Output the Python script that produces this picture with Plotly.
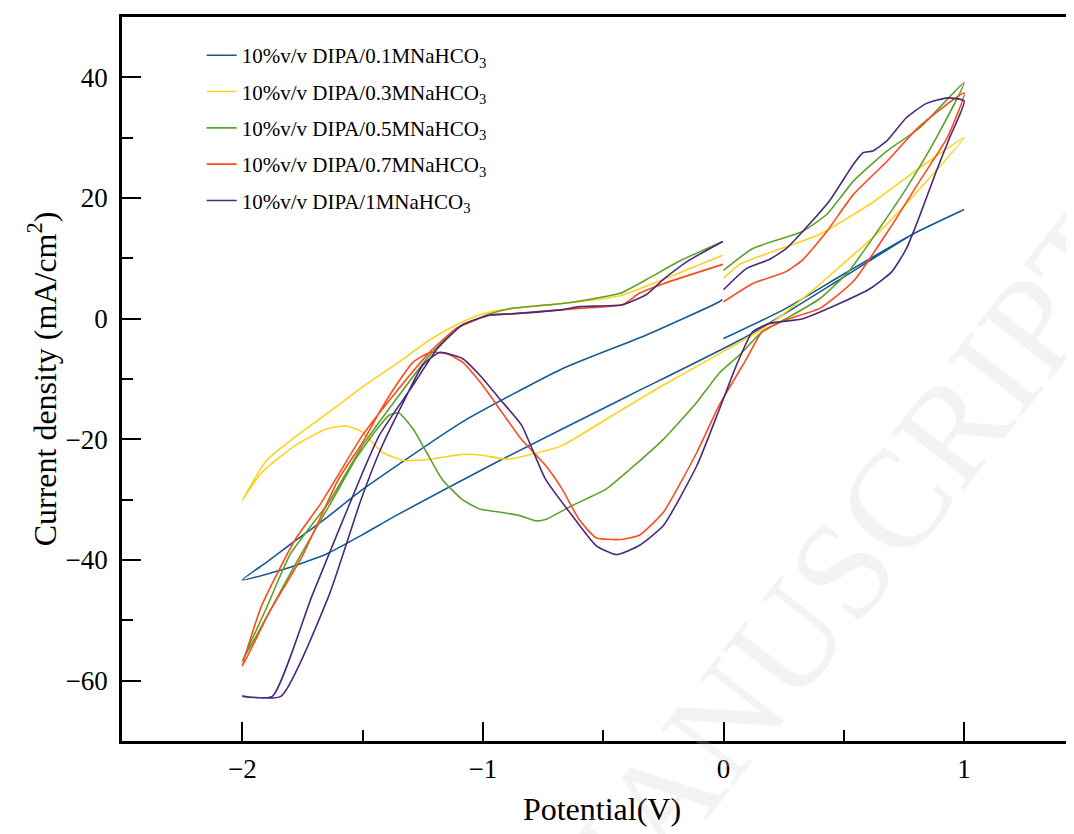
import plotly.graph_objects as go

# cyclic voltammograms, 10% v/v DIPA in NaHCO3 solutions
# each scan: 0 V -> +1 V -> -2 V -> back to 0 V
names = ["10%v/v DIPA/0.1MNaHCO<sub>3</sub>",
         "10%v/v DIPA/0.3MNaHCO<sub>3</sub>",
         "10%v/v DIPA/0.5MNaHCO<sub>3</sub>",
         "10%v/v DIPA/0.7MNaHCO<sub>3</sub>",
         "10%v/v DIPA/1MNaHCO<sub>3</sub>"]
colors = ["#155a96", "#ffd21f", "#5ea22a", "#ff4b1c", "#4b2a7a"]

E_01 = [0.0, 0.25, 0.5, 0.786, 1.0,
        0.786, 0.5, 0.108, -0.39, -0.944, -1.36, -1.5, -1.65, -1.8, -2.0,
        -1.9, -1.79, -1.65, -1.5, -1.085, -0.67, -0.32, -0.017, -0.005]
j_01 = [-3.3, 1.5, 7.4, 14.0, 18.1,
        14.0, 6.9, -2.7, -12.7, -23.8, -32.6, -35.8, -39.0, -41.2, -43.3,
        -40.4, -37.1, -33.0, -28.3, -17.1, -8.3, -2.7, 2.8, 3.2]

E_03 = [0.0, 0.067, 0.4, 0.61, 0.815, 1.0,
        0.815, 0.65, 0.48, 0.4, 0.19, -0.017, -0.25, -0.46, -0.67, -0.81, -0.9, -1.01,
        -1.085, -1.22, -1.33, -1.42, -1.5, -1.57, -1.65, -1.78, -1.92, -2.0,
        -1.9, -1.78, -1.64, -1.5, -1.36, -1.22, -1.11, -1.01, -0.88, -0.6, -0.43, -0.25, -0.004]
j_03 = [6.7, 9.0, 14.0, 19.0, 25.0, 30.0,
        21.5, 14.5, 8.5, 5.7, -1.0, -5.8, -11.0, -16.0, -21.0, -22.6, -23.3, -22.6,
        -22.5, -23.3, -23.5, -22.1, -18.8, -17.8, -18.3, -21.0, -25.5, -30.1,
        -23.5, -19.6, -15.5, -11.3, -7.5, -3.5, -1.0, 0.7, 1.7, 2.8, 3.8, 6.5, 10.5]

E_05 = [0.0, 0.12, 0.26, 0.33, 0.43, 0.54, 0.68, 0.815, 1.0,
        0.885, 0.76, 0.64, 0.52, 0.4, 0.26, 0.16, 0.067, -0.017, -0.11, -0.25, -0.39, -0.49,
        -0.63, -0.74, -0.78, -0.85, -0.94, -1.01, -1.085, -1.17, -1.235, -1.29, -1.35, -1.39,
        -1.44, -1.53, -1.6, -1.775, -1.89, -2.0,
        -1.9, -1.8, -1.64, -1.5, -1.36, -1.22, -1.11, -0.97, -0.88, -0.67, -0.43, -0.32, -0.18, -0.003]
j_05 = [8.0, 11.6, 13.5, 14.5, 17.3, 22.8, 27.8, 31.6, 39.1,
        30.0, 21.6, 14.5, 7.8, 3.3, 0.0, -2.2, -6.0, -9.0, -13.8, -20.0, -25.0, -28.3,
        -31.0, -33.3, -33.5, -32.6, -32.0, -31.6, -30.0, -26.6, -22.1, -18.3, -15.6, -16.0,
        -18.3, -23.3, -28.3, -40.4, -48.8, -56.7,
        -48.0, -39.0, -30.4, -21.0, -13.3, -6.0, -1.6, 0.8, 1.7, 2.5, 4.2, 6.5, 9.6, 12.8]

E_07 = [0.0, 0.12, 0.26, 0.33, 0.43, 0.54, 0.68, 0.815, 1.0,
        0.93, 0.815, 0.7, 0.54, 0.4, 0.26, 0.16, 0.095, -0.017, -0.11, -0.25, -0.35, -0.43,
        -0.53, -0.6, -0.67, -0.74, -0.84, -0.93, -1.01, -1.085, -1.15, -1.22, -1.29, -1.36,
        -1.43, -1.5, -1.6, -1.75, -1.89, -2.0,
        -1.92, -1.78, -1.67, -1.5, -1.36, -1.22, -1.11, -0.97, -0.88, -0.6, -0.42, -0.35, -0.25, -0.003]
j_07 = [2.8, 5.8, 7.8, 9.8, 14.5, 20.6, 26.1, 31.9, 37.4,
        30.0, 22.8, 15.5, 6.2, 1.7, -0.2, -2.2, -6.7, -14.3, -22.1, -32.1, -35.9, -36.6,
        -36.3, -33.3, -28.3, -24.3, -20.0, -15.0, -10.6, -7.2, -5.8, -5.6, -7.2, -11.0,
        -15.5, -20.5, -26.6, -39.3, -48.8, -57.6,
        -47.6, -36.6, -30.4, -19.3, -12.1, -5.5, -1.6, 0.6, 0.8, 1.7, 2.3, 4.2, 5.8, 9.0]

E_1 = [0.0, 0.095, 0.19, 0.26, 0.33, 0.44, 0.54, 0.58, 0.62, 0.68, 0.76, 0.84, 0.93, 1.0,
       0.94, 0.885, 0.815, 0.76, 0.7, 0.61, 0.47, 0.33, 0.19, 0.12, 0.054, -0.017, -0.11, -0.25,
       -0.35, -0.445, -0.53, -0.63, -0.74, -0.84, -0.93, -1.01, -1.085, -1.18, -1.25, -1.33,
       -1.43, -1.51, -1.64, -1.84, -2.0,
       -1.875, -1.71, -1.5, -1.43, -1.29, -1.19, -1.085, -0.97, -0.88, -0.67, -0.6, -0.42,
       -0.32, -0.25, -0.15, -0.003]
j_1 = [4.8, 8.3, 9.8, 11.6, 14.5, 19.5, 25.6, 27.5, 27.8, 29.5, 33.3, 35.6, 36.6, 36.1,
       30.0, 24.5, 17.0, 11.6, 7.8, 5.0, 2.3, 0.0, -0.8, -2.2, -7.7, -15.0, -24.3, -34.3,
       -37.6, -39.1, -37.6, -32.6, -26.6, -17.6, -13.3, -9.5, -6.6, -5.6, -7.7, -13.8,
       -22.1, -30.4, -45.9, -62.6, -62.6,
       -62.6, -45.9, -25.5, -19.3, -11.0, -5.0, -1.0, 0.6, 0.8, 1.5, 2.0, 2.3,
       4.0, 6.5, 9.5, 12.8]

scans = [(E_01, j_01), (E_03, j_03), (E_05, j_05), (E_07, j_07), (E_1, j_1)]

fig = go.Figure()
for i, (E, j) in enumerate(scans):
    fig.add_trace(go.Scatter(x=E, y=j, mode="lines", name=names[i],
                             legendgroup=str(i),
                             line=dict(color=colors[i], width=1.6, shape="spline", smoothing=0.5)))

# faint watermark of the source page
fig.add_annotation(text="MANUSCRIPT", xref="paper", yref="paper", x=0.74, y=0.22,
                   xanchor="center", yanchor="middle",
                   showarrow=False, textangle=-52,
                   font=dict(family="Liberation Serif", size=140, color="rgba(200,200,200,0.22)"))

fig.update_layout(
    width=1074, height=834,
    margin=dict(l=114, r=0, t=9, b=101),
    plot_bgcolor="white", paper_bgcolor="white",
    font=dict(family="Liberation Serif", color="black"),
    legend=dict(x=0.083, y=0.975, xanchor="left", yanchor="top",
                font=dict(size=21), tracegroupgap=6, bgcolor="rgba(0,0,0,0)"),
)
fig.update_xaxes(range=[-2.5, 1.49], dtick=1, tick0=0, showgrid=False, zeroline=False,
                 automargin=False,
                 showline=True, linewidth=2.5, linecolor="black", mirror=True,
                 ticks="inside", ticklen=19, tickwidth=2, tickcolor="black",
                 minor=dict(ticks="inside", ticklen=11, tickwidth=2, dtick=0.5, tickcolor="black"),
                 tickfont=dict(size=27), ticklabelstandoff=2,
                 title=dict(text="Potential(V)", font=dict(size=32), standoff=15))
fig.update_yaxes(range=[-70, 50], dtick=20, tick0=0, showgrid=False, zeroline=False,
                 automargin=False,
                 showline=True, linewidth=2.5, linecolor="black",
                 ticks="inside", ticklen=19, tickwidth=2, tickcolor="black",
                 minor=dict(ticks="inside", ticklen=11, tickwidth=2, dtick=10, tickcolor="black"),
                 tickfont=dict(size=27), ticklabelstandoff=6,
                 title=dict(text="Current density (mA/cm<sup>2</sup>)", font=dict(size=32), standoff=0))

fig.write_html("out.html")
